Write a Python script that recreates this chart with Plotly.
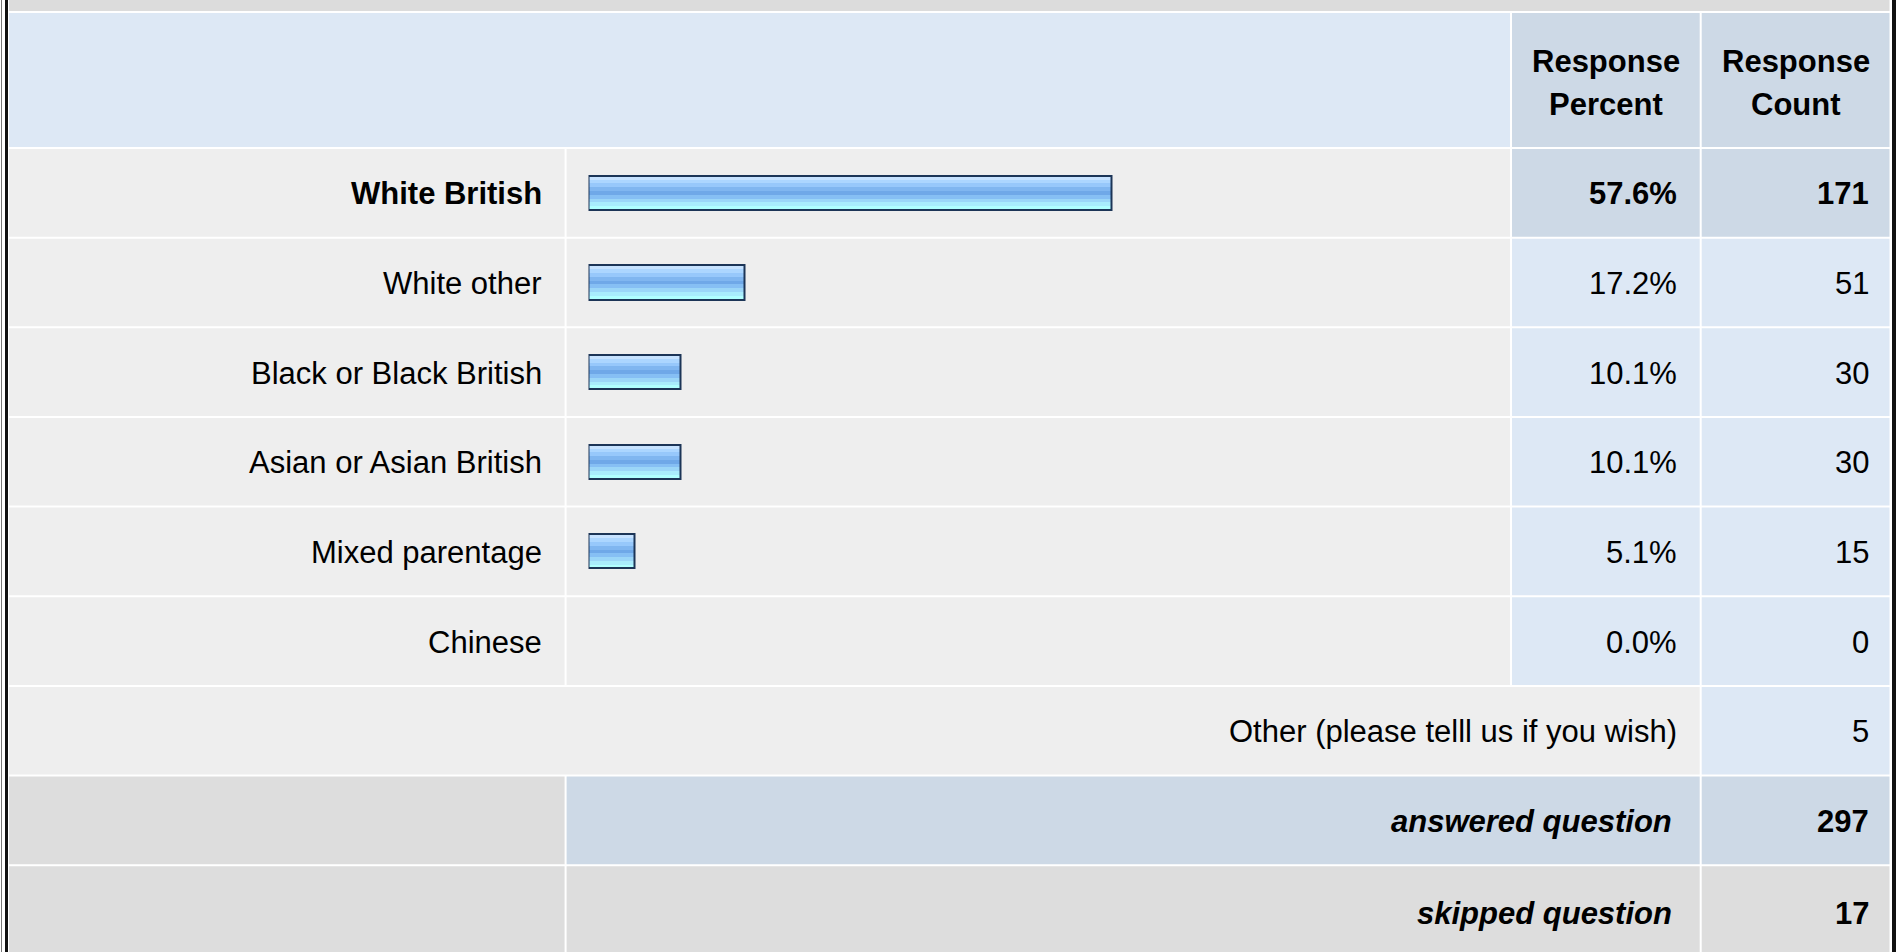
import plotly.graph_objects as go

# ---------------- data ----------------
categories = ["White British", "White other", "Black or Black British",
              "Asian or Asian British", "Mixed parentage", "Chinese"]
percents = [57.6, 17.2, 10.1, 10.1, 5.1, 0.0]
counts = [171, 51, 30, 30, 15, 0]
other_label = "Other (please telll us if you wish)"
other_count = 5
answered_label = "answered question"
answered_count = 297
skipped_label = "skipped question"
skipped_count = 17
header_labels = ["Response Percent", "Response Count"]

# ---------------- layout constants (pixels) ----------------
W, H = 1903, 952
ROW0, PITCH = 148.0, 89.65
COL = dict(l0=9, l1=564.6, b0=566.6, b1=1510, p0=1512, p1=1699.7, c0=1701.7, c1=1889.5)
FONT = "Arial, 'Liberation Sans', sans-serif"
FS = 31

C_TOP = "#dcdcdc"
C_HEAD = "#dde8f5"
C_HEAD2 = "#cdd9e6"
C_ROW = "#eeeeee"
C_VAL = "#dde8f5"
C_GREY = "#dddddd"


def px(x):
    return x / W


def py(y):
    return 1 - y / H


shapes = []


def rect(x0, x1, y0, y1, color):
    shapes.append(dict(type="rect", xref="paper", yref="paper",
                       x0=px(x0), x1=px(x1), y0=py(y1), y1=py(y0),
                       fillcolor=color, line=dict(width=0), layer="below"))


def row_span(i):
    top = ROW0 + i * PITCH + 1
    bot = ROW0 + (i + 1) * PITCH - 1
    return top, bot


def row_center(i):
    return ROW0 + (i + 0.5) * PITCH + 1


# top band and header
rect(COL["l0"], COL["c1"], 0, 11, C_TOP)
rect(COL["l0"], COL["b1"], 13, 147, C_HEAD)
rect(COL["p0"], COL["p1"], 13, 147, C_HEAD2)
rect(COL["c0"], COL["c1"], 13, 147, C_HEAD2)

# data rows
n = len(categories)
for i in range(n):
    t, b = row_span(i)
    rect(COL["l0"], COL["l1"], t, b, C_ROW)
    rect(COL["b0"], COL["b1"], t, b, C_ROW)
    vc = C_HEAD2 if i == 0 else C_VAL
    rect(COL["p0"], COL["p1"], t, b, vc)
    rect(COL["c0"], COL["c1"], t, b, vc)

# other row
t, b = row_span(n)
rect(COL["l0"], COL["p1"], t, b, C_ROW)
rect(COL["c0"], COL["c1"], t, b, C_VAL)

# answered row
t, b = row_span(n + 1)
rect(COL["l0"], COL["l1"], t, b, C_GREY)
rect(COL["b0"], COL["p1"], t, b, C_HEAD2)
rect(COL["c0"], COL["c1"], t, b, C_HEAD2)

# skipped row
t, _ = row_span(n + 2)
rect(COL["l0"], COL["l1"], t, H + 5, C_GREY)
rect(COL["b0"], COL["p1"], t, H + 5, C_GREY)
rect(COL["c0"], COL["c1"], t, H + 5, C_GREY)

# outer borders
shapes.append(dict(type="rect", xref="paper", yref="paper", x0=px(1), x1=px(2),
                   y0=0, y1=1, fillcolor="#777777", line=dict(width=0)))
shapes.append(dict(type="rect", xref="paper", yref="paper", x0=px(5), x1=px(8),
                   y0=0, y1=1, fillcolor="#111111", line=dict(width=0)))
shapes.append(dict(type="rect", xref="paper", yref="paper", x0=px(1892), x1=px(1896),
                   y0=0, y1=1, fillcolor="#111111", line=dict(width=0)))

# ---------------- annotations ----------------
annotations = []


def text(x, y, s, anchor="right", size=FS):
    annotations.append(dict(xref="paper", yref="paper", x=px(x), y=py(y), text=s,
                            xanchor=anchor, yanchor="middle", showarrow=False,
                            borderpad=0, align="center",
                            font=dict(family=FONT, size=size, color="#000000")))


for lbl, (a, b) in zip(header_labels, [(COL["p0"], COL["p1"]), (COL["c0"], COL["c1"])]):
    words = lbl.split(" ")
    text((a + b) / 2, 61.5, "<b>%s</b>" % words[0], anchor="center")
    text((a + b) / 2, 104.5, "<b>%s</b>" % words[1], anchor="center")

LX, PX_, CX = 543, 1678, 1870
for i, (cat, p, c) in enumerate(zip(categories, percents, counts)):
    y = row_center(i)
    if i == 0:
        text(LX, y, "<b>%s</b>" % cat)
        text(PX_, y, "<b>%.1f%%</b>" % p)
        text(CX, y, "<b>%d</b>" % c)
    else:
        text(LX, y, cat)
        text(PX_, y, "%.1f%%" % p)
        text(CX, y, "%d" % c)

text(PX_, row_center(n), other_label)
text(CX, row_center(n), str(other_count))
text(PX_ - 5, row_center(n + 1), "<b><i>%s</i></b>" % answered_label)
text(CX, row_center(n + 1), "<b>%d</b>" % answered_count)
text(PX_ - 5, row_center(n + 2) + 2, "<b><i>%s</i></b>" % skipped_label)
text(CX, row_center(n + 2) + 2, "<b>%d</b>" % skipped_count)

# ---------------- bars ----------------
fig = go.Figure()
ys = list(range(n))
nz_x = [p for p in percents if p > 0]
nz_y = [i for i, p in enumerate(percents) if p > 0]
BH = 0.38
stripe_colors = ["#c6e2ff", "#acd6ff", "#97c8fb", "#80b6f0", "#6fa8e8",
                 "#86bff4", "#9bd6f8", "#a9ecfc", "#b0ffff"]
ns = len(stripe_colors)
for k, col in enumerate(stripe_colors):
    fig.add_trace(go.Bar(x=nz_x, y=nz_y, orientation="h",
                         width=BH / ns + 0.002, offset=-BH / 2 + k * BH / ns,
                         marker=dict(color=col, line=dict(width=0)),
                         hoverinfo="skip", showlegend=False))
fig.add_trace(go.Bar(x=nz_x, y=nz_y, orientation="h", width=BH, offset=-BH / 2,
                     marker=dict(color="rgba(0,0,0,0)", line=dict(color="#1c3557", width=2)),
                     hoverinfo="skip", showlegend=False))

X0, X100 = 588.5, 588.5 + 908.3
fig.update_layout(
    width=W, height=H, autosize=False,
    margin=dict(l=0, r=0, t=0, b=0, pad=0),
    paper_bgcolor="#ffffff", plot_bgcolor="rgba(0,0,0,0)",
    barmode="overlay", bargap=0,
    xaxis=dict(domain=[px(X0), px(X100)], range=[0, 100], visible=False, fixedrange=True),
    yaxis=dict(domain=[py(ROW0 + n * PITCH), py(ROW0)], range=[n - 0.5, -0.5],
               visible=False, fixedrange=True),
    shapes=shapes, annotations=annotations,
    showlegend=False,
)

fig.write_html("out.html", config={"displayModeBar": False},
               post_script="document.body.style.margin='0';document.body.style.overflow='hidden';")
